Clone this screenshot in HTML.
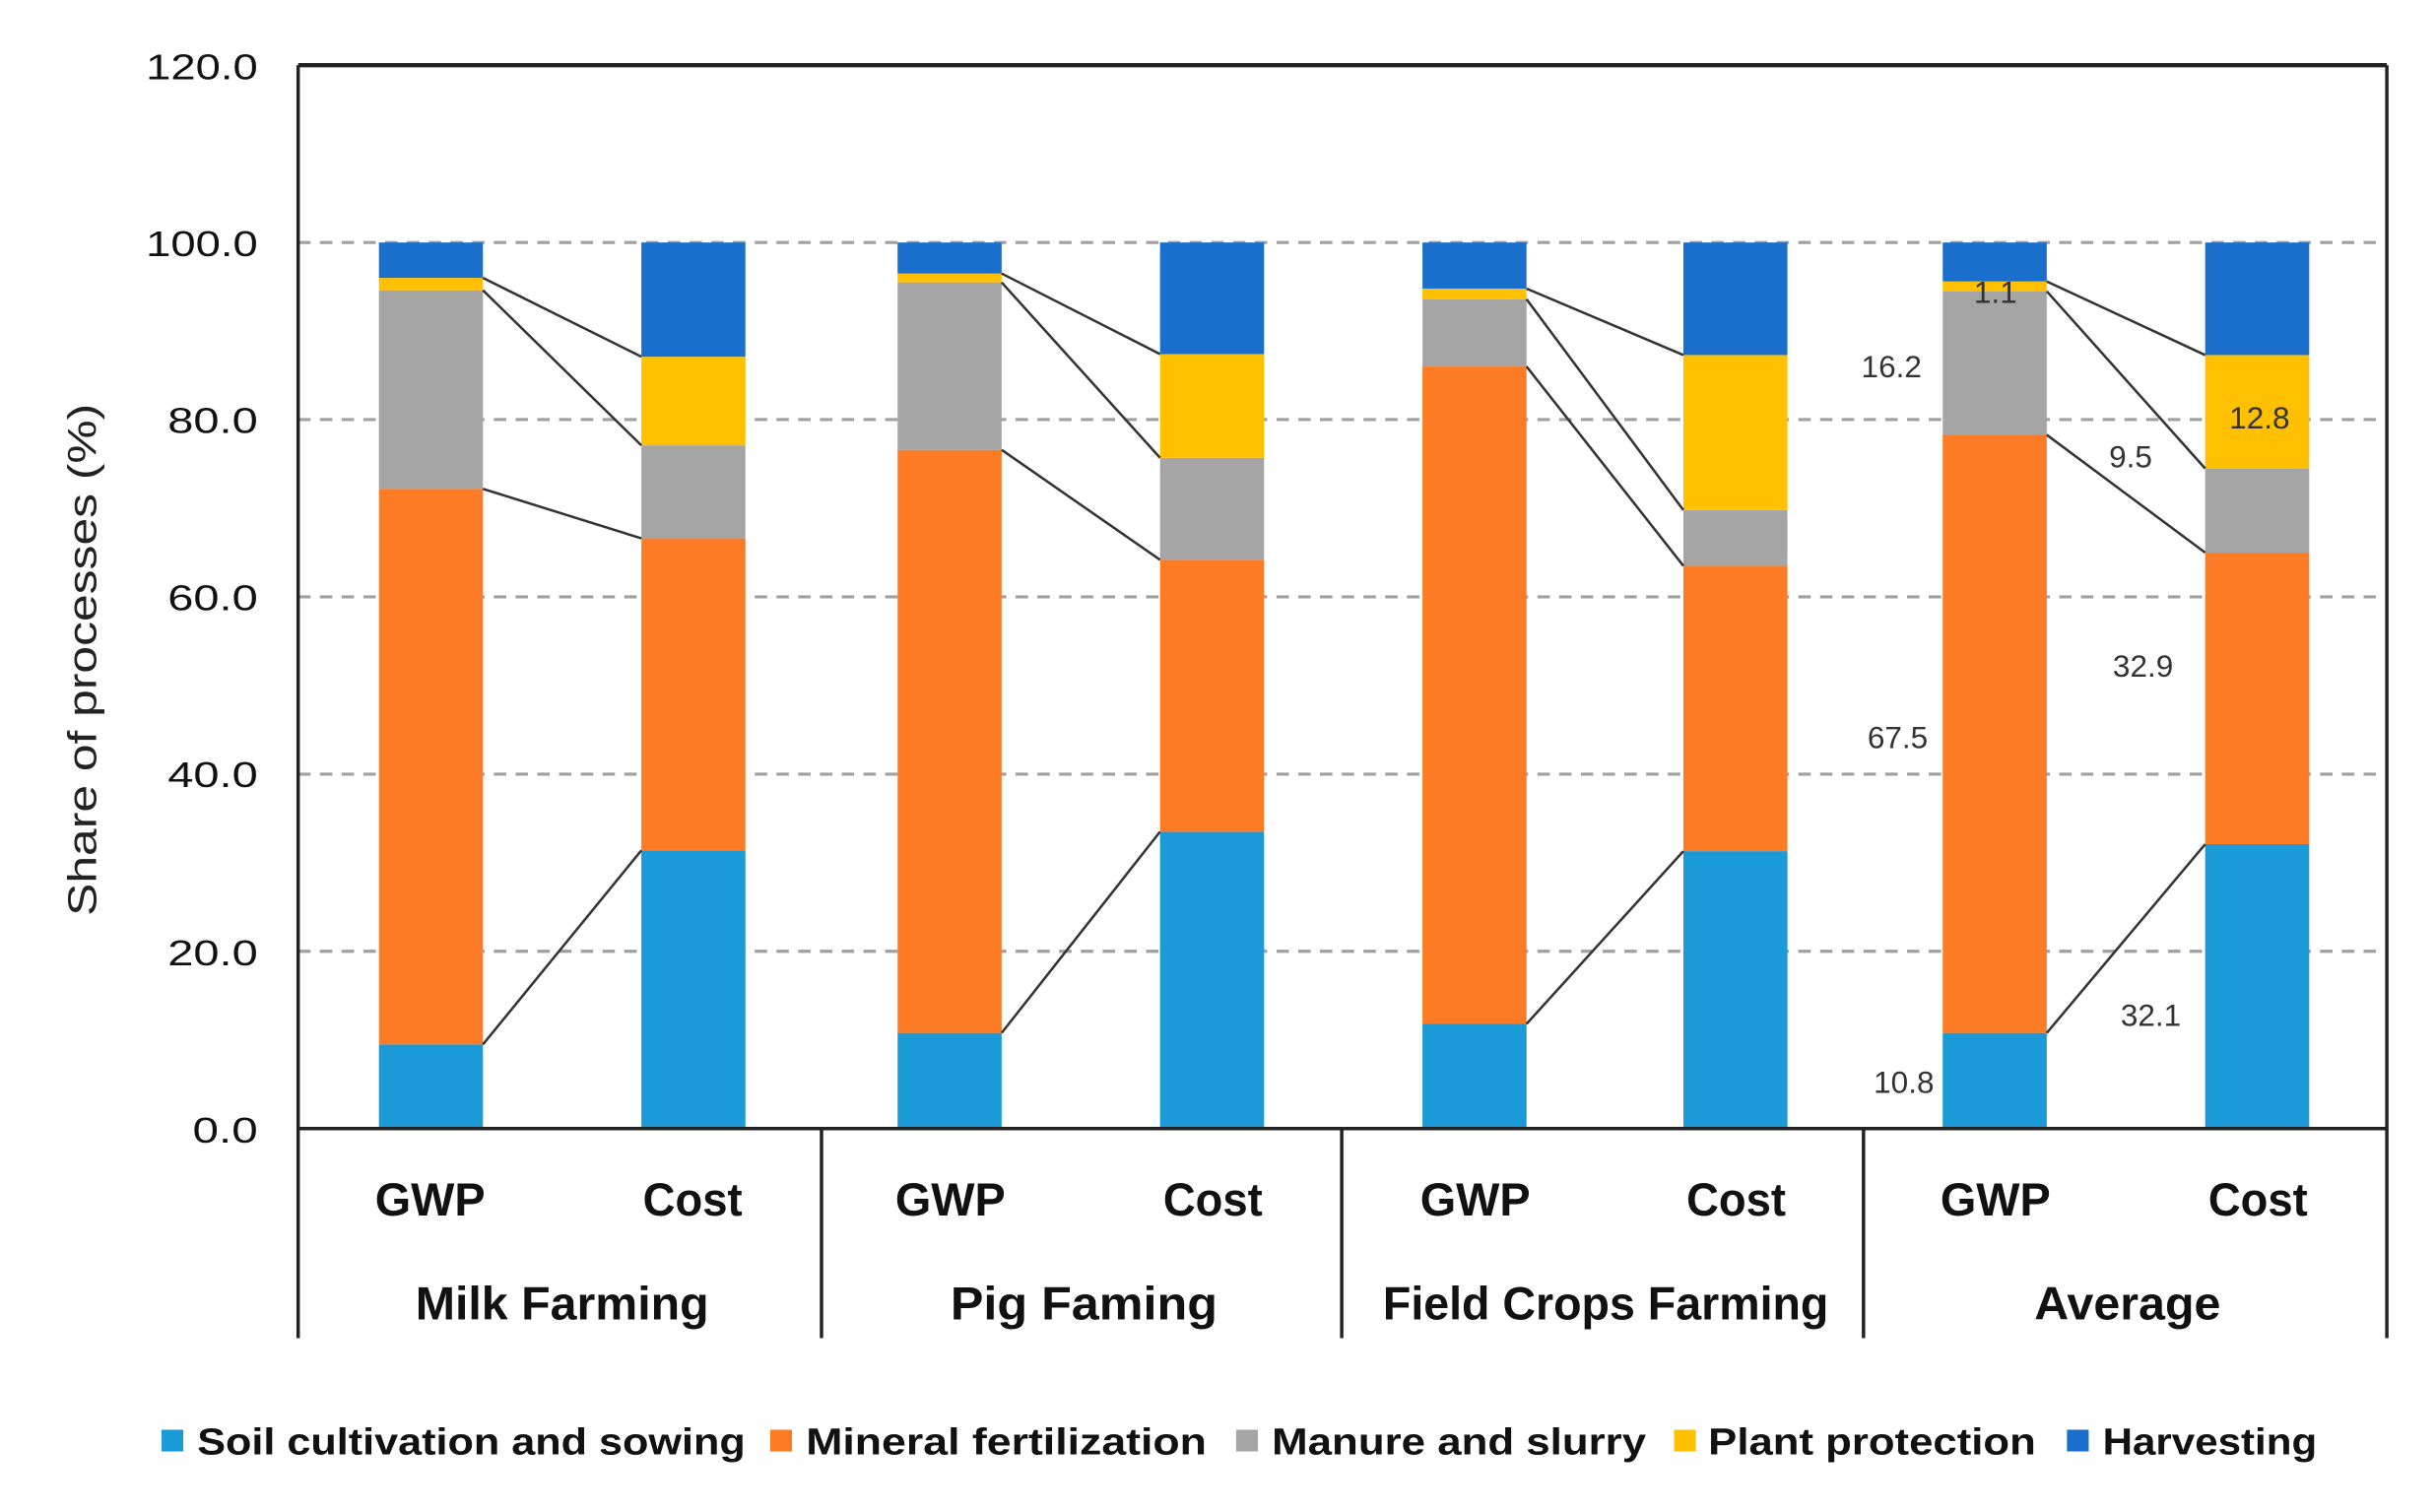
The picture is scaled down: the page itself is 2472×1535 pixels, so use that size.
<!DOCTYPE html>
<html><head><meta charset="utf-8"><style>
html,body{margin:0;padding:0;background:#fff;}
svg{display:block;}
text{font-family:"Liberation Sans",sans-serif;}
</style></head><body>
<svg width="2472" height="1535" viewBox="0 0 1568 974" preserveAspectRatio="none" xmlns="http://www.w3.org/2000/svg">
<rect width="1568" height="974" fill="#fff"/>
<g stroke="#a0a0a0" stroke-width="2" stroke-dasharray="8,6">
<line x1="192" x2="1537" y1="612.8" y2="612.8"/>
<line x1="192" x2="1537" y1="498.7" y2="498.7"/>
<line x1="192" x2="1537" y1="384.5" y2="384.5"/>
<line x1="192" x2="1537" y1="270.3" y2="270.3"/>
<line x1="192" x2="1537" y1="156.2" y2="156.2"/>
</g>
<g>
<rect x="244" y="672.8" width="67" height="54.2" fill="#1a9ad6"/>
<rect x="244" y="314.9" width="67" height="357.9" fill="#fd7b24"/>
<rect x="244" y="187" width="67" height="127.9" fill="#a5a5a5"/>
<rect x="244" y="179" width="67" height="8" fill="#ffc000"/>
<rect x="244" y="156.2" width="67" height="22.8" fill="#1a6fcc"/>
<rect x="413" y="547.8" width="67" height="179.2" fill="#1a9ad6"/>
<rect x="413" y="346.8" width="67" height="201" fill="#fd7b24"/>
<rect x="413" y="286.9" width="67" height="59.9" fill="#a5a5a5"/>
<rect x="413" y="229.8" width="67" height="57.1" fill="#ffc000"/>
<rect x="413" y="156.2" width="67" height="73.6" fill="#1a6fcc"/>
<rect x="578" y="665.4" width="67" height="61.6" fill="#1a9ad6"/>
<rect x="578" y="289.8" width="67" height="375.6" fill="#fd7b24"/>
<rect x="578" y="181.9" width="67" height="107.9" fill="#a5a5a5"/>
<rect x="578" y="176.2" width="67" height="5.7" fill="#ffc000"/>
<rect x="578" y="156.2" width="67" height="20" fill="#1a6fcc"/>
<rect x="747" y="535.8" width="67" height="191.2" fill="#1a9ad6"/>
<rect x="747" y="360.6" width="67" height="175.2" fill="#fd7b24"/>
<rect x="747" y="294.9" width="67" height="65.7" fill="#a5a5a5"/>
<rect x="747" y="228.1" width="67" height="66.8" fill="#ffc000"/>
<rect x="747" y="156.2" width="67" height="71.9" fill="#1a6fcc"/>
<rect x="916" y="659.6" width="67" height="67.4" fill="#1a9ad6"/>
<rect x="916" y="236.1" width="67" height="423.5" fill="#fd7b24"/>
<rect x="916" y="192.7" width="67" height="43.4" fill="#a5a5a5"/>
<rect x="916" y="185.9" width="67" height="6.8" fill="#ffc000"/>
<rect x="916" y="156.2" width="67" height="29.7" fill="#1a6fcc"/>
<rect x="1084" y="548.3" width="67" height="178.7" fill="#1a9ad6"/>
<rect x="1084" y="364.5" width="67" height="183.8" fill="#fd7b24"/>
<rect x="1084" y="328.6" width="67" height="35.9" fill="#a5a5a5"/>
<rect x="1084" y="228.7" width="67" height="99.9" fill="#ffc000"/>
<rect x="1084" y="156.2" width="67" height="72.5" fill="#1a6fcc"/>
<rect x="1251" y="665.4" width="67" height="61.6" fill="#1a9ad6"/>
<rect x="1251" y="280.1" width="67" height="385.3" fill="#fd7b24"/>
<rect x="1251" y="187.6" width="67" height="92.5" fill="#a5a5a5"/>
<rect x="1251" y="181.3" width="67" height="6.3" fill="#ffc000"/>
<rect x="1251" y="156.2" width="67" height="25.1" fill="#1a6fcc"/>
<rect x="1420" y="543.8" width="67" height="183.2" fill="#1a9ad6"/>
<rect x="1420" y="356" width="67" height="187.8" fill="#fd7b24"/>
<rect x="1420" y="301.8" width="67" height="54.2" fill="#a5a5a5"/>
<rect x="1420" y="228.7" width="67" height="73.1" fill="#ffc000"/>
<rect x="1420" y="156.2" width="67" height="72.5" fill="#1a6fcc"/>
</g>
<g stroke="#333" stroke-width="1.6">
<line x1="311" y1="672.8" x2="413" y2="547.8"/>
<line x1="311" y1="314.9" x2="413" y2="346.8"/>
<line x1="311" y1="187" x2="413" y2="286.9"/>
<line x1="311" y1="179" x2="413" y2="229.8"/>
<line x1="645" y1="665.4" x2="747" y2="535.8"/>
<line x1="645" y1="289.8" x2="747" y2="360.6"/>
<line x1="645" y1="181.9" x2="747" y2="294.9"/>
<line x1="645" y1="176.2" x2="747" y2="228.1"/>
<line x1="983" y1="659.6" x2="1084" y2="548.3"/>
<line x1="983" y1="236.1" x2="1084" y2="364.5"/>
<line x1="983" y1="192.7" x2="1084" y2="328.6"/>
<line x1="983" y1="185.9" x2="1084" y2="228.7"/>
<line x1="1318" y1="665.4" x2="1420" y2="543.8"/>
<line x1="1318" y1="280.1" x2="1420" y2="356"/>
<line x1="1318" y1="187.6" x2="1420" y2="301.8"/>
<line x1="1318" y1="181.3" x2="1420" y2="228.7"/>
</g>
<g stroke="#222" stroke-width="2.2" fill="none">
<line x1="192" y1="42" x2="1537" y2="42" stroke-width="2.8"/>
<line x1="192" y1="42" x2="192" y2="862"/>
<line x1="1537" y1="42" x2="1537" y2="862"/>
<line x1="192" y1="727" x2="1537" y2="727"/>
<line x1="529" y1="727" x2="529" y2="862"/>
<line x1="864" y1="727" x2="864" y2="862"/>
<line x1="1200" y1="727" x2="1200" y2="862"/>
</g>
<g font-size="23" fill="#111" text-anchor="end">
<text x="166" y="51" textLength="72" lengthAdjust="spacingAndGlyphs">120.0</text>
<text x="166" y="165" textLength="72" lengthAdjust="spacingAndGlyphs">100.0</text>
<text x="166" y="279" textLength="58" lengthAdjust="spacingAndGlyphs">80.0</text>
<text x="166" y="393" textLength="58" lengthAdjust="spacingAndGlyphs">60.0</text>
<text x="166" y="507" textLength="58" lengthAdjust="spacingAndGlyphs">40.0</text>
<text x="166" y="622" textLength="58" lengthAdjust="spacingAndGlyphs">20.0</text>
<text x="166" y="736" textLength="42" lengthAdjust="spacingAndGlyphs">0.0</text>
</g>
<text transform="translate(62,425) rotate(-90)" font-size="26" fill="#222" text-anchor="middle" textLength="330" lengthAdjust="spacingAndGlyphs">Share of processes  (%)</text>
<g font-size="20" fill="#333" text-anchor="middle">
<text x="1218" y="243">16.2</text>
<text x="1285" y="195">1.1</text>
<text x="1222" y="482">67.5</text>
<text x="1226" y="704">10.8</text>
<text x="1372" y="301">9.5</text>
<text x="1455" y="276">12.8</text>
<text x="1380" y="436">32.9</text>
<text x="1385" y="661">32.1</text>
</g>
<g font-size="30" font-weight="bold" fill="#111" text-anchor="middle">
<text x="277" y="783" textLength="71" lengthAdjust="spacingAndGlyphs">GWP</text>
<text x="446" y="783" textLength="64" lengthAdjust="spacingAndGlyphs">Cost</text>
<text x="612" y="783" textLength="71" lengthAdjust="spacingAndGlyphs">GWP</text>
<text x="781" y="783" textLength="64" lengthAdjust="spacingAndGlyphs">Cost</text>
<text x="950" y="783" textLength="71" lengthAdjust="spacingAndGlyphs">GWP</text>
<text x="1118" y="783" textLength="64" lengthAdjust="spacingAndGlyphs">Cost</text>
<text x="1285" y="783" textLength="71" lengthAdjust="spacingAndGlyphs">GWP</text>
<text x="1454" y="783" textLength="64" lengthAdjust="spacingAndGlyphs">Cost</text>
<text x="362" y="850" textLength="189" lengthAdjust="spacingAndGlyphs">Milk Farming</text>
<text x="698" y="850" textLength="172" lengthAdjust="spacingAndGlyphs">Pig Faming</text>
<text x="1034" y="850" textLength="287" lengthAdjust="spacingAndGlyphs">Field Crops Farming</text>
<text x="1370" y="850" textLength="120" lengthAdjust="spacingAndGlyphs">Average</text>
</g>
<g font-size="24" font-weight="bold" fill="#111">
<rect x="104" y="921" width="14" height="14" fill="#1a9ad6"/>
<text x="127" y="937" textLength="353" lengthAdjust="spacingAndGlyphs">Soil cultivation and sowing</text>
<rect x="496" y="921" width="14" height="14" fill="#fd7b24"/>
<text x="519" y="937" textLength="258" lengthAdjust="spacingAndGlyphs">Mineral fertilization</text>
<rect x="796" y="921" width="14" height="14" fill="#a5a5a5"/>
<text x="819" y="937" textLength="241" lengthAdjust="spacingAndGlyphs">Manure and slurry</text>
<rect x="1078" y="921" width="14" height="14" fill="#ffc000"/>
<text x="1100" y="937" textLength="211" lengthAdjust="spacingAndGlyphs">Plant protection</text>
<rect x="1331" y="921" width="14" height="14" fill="#1a6fcc"/>
<text x="1354" y="937" textLength="138" lengthAdjust="spacingAndGlyphs">Harvesting</text>
</g>
</svg>
</body></html>
